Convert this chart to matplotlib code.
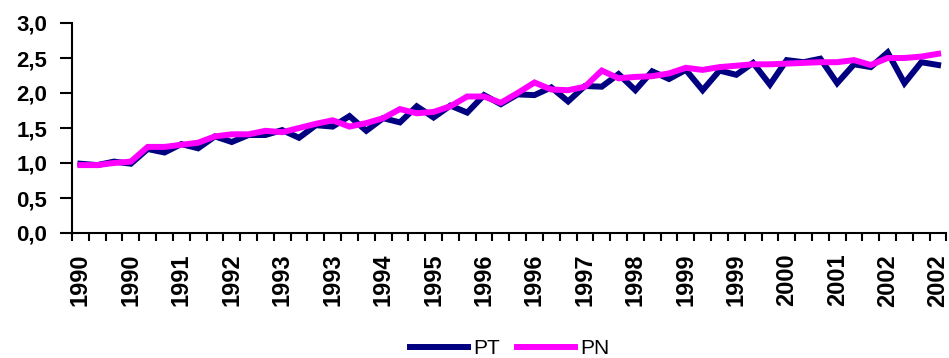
import numpy as np
import matplotlib
matplotlib.use("Agg")
import matplotlib.pyplot as plt
import matplotlib.ticker as ticker

# quarterly series, 1990 Q1 .. 2002 Q4
pt = [0.99, 0.97, 1.02, 0.99, 1.20, 1.15, 1.27, 1.21, 1.38, 1.30, 1.40, 1.40, 1.47,
      1.36, 1.54, 1.52, 1.67, 1.46, 1.64, 1.58, 1.81, 1.65, 1.82, 1.72, 1.97, 1.84,
      1.98, 1.97, 2.08, 1.88, 2.10, 2.09, 2.27, 2.04, 2.31, 2.20, 2.33, 2.04, 2.32,
      2.26, 2.43, 2.12, 2.47, 2.44, 2.49, 2.14, 2.41, 2.37, 2.58, 2.14, 2.44, 2.40]
pn = [0.97, 0.97, 1.00, 1.02, 1.23, 1.23, 1.26, 1.29, 1.38, 1.41, 1.41, 1.46, 1.44,
      1.50, 1.56, 1.61, 1.52, 1.57, 1.64, 1.77, 1.71, 1.73, 1.81, 1.95, 1.95, 1.86,
      2.00, 2.15, 2.05, 2.04, 2.09, 2.32, 2.21, 2.23, 2.24, 2.28, 2.36, 2.33, 2.37,
      2.39, 2.41, 2.41, 2.42, 2.43, 2.44, 2.44, 2.47, 2.40, 2.50, 2.50, 2.52, 2.56]
year_labels = ["1990", "1990", "1991", "1992", "1993", "1993", "1994", "1995", "1996",
               "1996", "1997", "1998", "1999", "1999", "2000", "2001", "2002", "2002"]
y_ticks = [0, 0.5, 1.0, 1.5, 2.0, 2.5, 3.0]

plt.rcParams.update({'font.family': 'Liberation Sans'})

fig = plt.figure(figsize=(9.49, 3.58), dpi=100)
ax = fig.add_axes([72/949, 1-233/358, 874.5/949, 210/358])

x = np.arange(len(pt))
ax.plot(x, pt, color='#000080', lw=4.3, solid_joinstyle='miter', label='PT')
ax.plot(x, pn, color='#ff00ff', lw=4.3, solid_joinstyle='miter', label='PN')

ax.set_xlim(-0.5, len(pt)-0.5)
ax.set_ylim(0, 3)
ax.set_yticks(y_ticks)
ax.yaxis.set_major_formatter(ticker.FuncFormatter(lambda v, p: ('%.1f' % v).replace('.', ',')))

ax.set_xticks(x[::3])
ax.set_xticklabels(year_labels, rotation=90, fontweight='bold', fontsize=17)
ax.set_xticks(np.arange(-0.5, len(pt)), minor=True)
ax.tick_params(axis='x', which='major', length=0, pad=15)
ax.tick_params(axis='x', which='minor', length=6, width=1.5, direction='out')
ax.tick_params(axis='y', length=9, width=1.5, direction='out', pad=9, labelsize=16)
for lab in ax.get_yticklabels():
    lab.set_fontweight('bold')

ax.spines['top'].set_visible(False)
ax.spines['right'].set_visible(False)
ax.spines['left'].set_linewidth(1.5)
ax.spines['bottom'].set_linewidth(1.5)

fig.legend(loc='center', bbox_to_anchor=(510/949, 1-349/358), ncol=2, frameon=False,
           fontsize=15, handlelength=2.8, handletextpad=0.25, columnspacing=0.8,
           borderpad=0)

fig.savefig('out.png', dpi=100)
